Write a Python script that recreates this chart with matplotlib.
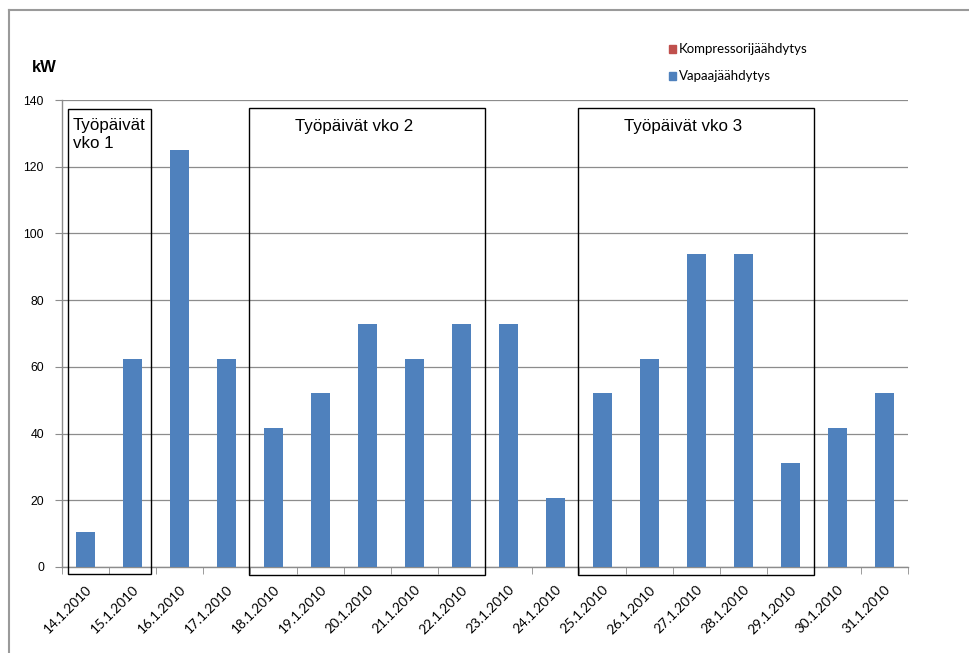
import matplotlib
matplotlib.use("Agg")
import matplotlib.pyplot as plt
from matplotlib.patches import Rectangle
from matplotlib.lines import Line2D
import numpy as np

dates = ["14.1.2010", "15.1.2010", "16.1.2010", "17.1.2010", "18.1.2010",
         "19.1.2010", "20.1.2010", "21.1.2010", "22.1.2010", "23.1.2010",
         "24.1.2010", "25.1.2010", "26.1.2010", "27.1.2010", "28.1.2010",
         "29.1.2010", "30.1.2010", "31.1.2010"]
vapaa = [10.4, 62.5, 125.0, 62.5, 41.7, 52.1, 72.9, 62.5, 72.9, 72.9,
         20.8, 52.1, 62.5, 93.8, 93.8, 31.3, 41.7, 52.1]
kompressori = [0.0] * len(dates)
yticks = [0, 20, 40, 60, 80, 100, 120, 140]

# working-week groups: (label, first day index, last day index)
weeks = [("Työpäivät\nvko 1", 0, 1), ("Työpäivät vko 2", 4, 8), ("Työpäivät vko 3", 11, 15)]

BLUE = "#4F81BD"
RED = "#C0504D"
GRID = "#8c8c8c"
TICKFONT = "Lato"

fig = plt.figure(figsize=(9.69, 6.53), dpi=100)
ax = fig.add_axes([0.064, 0.1317, 0.873, 0.7151])

x = np.arange(len(dates))
ax.bar(x, kompressori, width=0.4, color=RED, bottom=vapaa, zorder=3)
ax.bar(x, vapaa, width=0.4, color=BLUE, zorder=3)

ax.set_xlim(-0.5, len(dates) - 0.5)
ax.set_ylim(0, 140)
ax.set_yticks(yticks)
ax.set_yticklabels([str(v) for v in yticks], fontfamily="Liberation Sans", fontsize=8.8)
ax.set_xticks(x)
ax.set_xticklabels(dates, rotation=45, ha="right", va="top", rotation_mode="anchor",
                   fontfamily=TICKFONT, fontsize=9.8)
ax.set_xticks(np.arange(len(dates) + 1) - 0.5, minor=True)
ax.tick_params(axis="x", which="major", length=0, pad=12)
ax.tick_params(axis="x", which="minor", length=5, color=GRID, direction="out")
ax.tick_params(axis="y", length=5, color=GRID, pad=8)

ax.grid(axis="y", color=GRID, linewidth=0.9, zorder=0)
for side in ("top", "right"):
    ax.spines[side].set_visible(False)
for side in ("left", "bottom"):
    ax.spines[side].set_color(GRID)
    ax.spines[side].set_linewidth(1.0)

# boxes around the working weeks
for label, i0, i1 in weeks:
    if i0 == 0:
        x0, x1, y0, y1 = i0 - 0.37, i1 + 0.39, -2.1, 137.3
    else:
        x0, x1, y0, y1 = i0 - 0.52, i1 + 0.5, -2.5, 137.6
    ax.add_patch(Rectangle((x0, y0), x1 - x0, y1 - y0, fill=False, edgecolor="black",
                           linewidth=1.0, clip_on=False, zorder=4))
    if "\n" in label:
        ax.text(x0 + 0.1, y1 - 2.6, label, ha="left", va="top", fontsize=12.2,
                fontfamily="Liberation Sans", linespacing=1.3, zorder=5)
    else:
        ax.text(x0 + 0.98, y1 - 3.2, label, ha="left", va="top", fontsize=12.2,
                fontfamily="Liberation Sans", zorder=5)

fig.text(32 / 969, 1 - 68 / 653, "kW", fontsize=12, fontweight="bold",
         fontfamily="Liberation Sans", va="center", ha="left")

# legend entries
for k, (name, col) in enumerate([("Kompressorijäähdytys", RED), ("Vapaajäähdytys", BLUE)]):
    yy = 1 - (49 + 27 * k) / 653
    fig.patches.append(Rectangle((669 / 969, yy - 3.5 / 653), 6.5 / 969, 7 / 653,
                                 transform=fig.transFigure, color=col))
    fig.text(679 / 969, yy, name, fontsize=9.5, fontfamily=TICKFONT, va="center", ha="left")

# outer chart frame
fig.add_artist(Line2D([9 / 969, 9 / 969], [0, 1 - 10 / 653], color="#9a9a9a", linewidth=1.5,
                      transform=fig.transFigure))
fig.add_artist(Line2D([9 / 969, 1], [1 - 10 / 653, 1 - 10 / 653], color="#9a9a9a", linewidth=1.5,
                      transform=fig.transFigure))

fig.savefig("out.png", dpi=100)
